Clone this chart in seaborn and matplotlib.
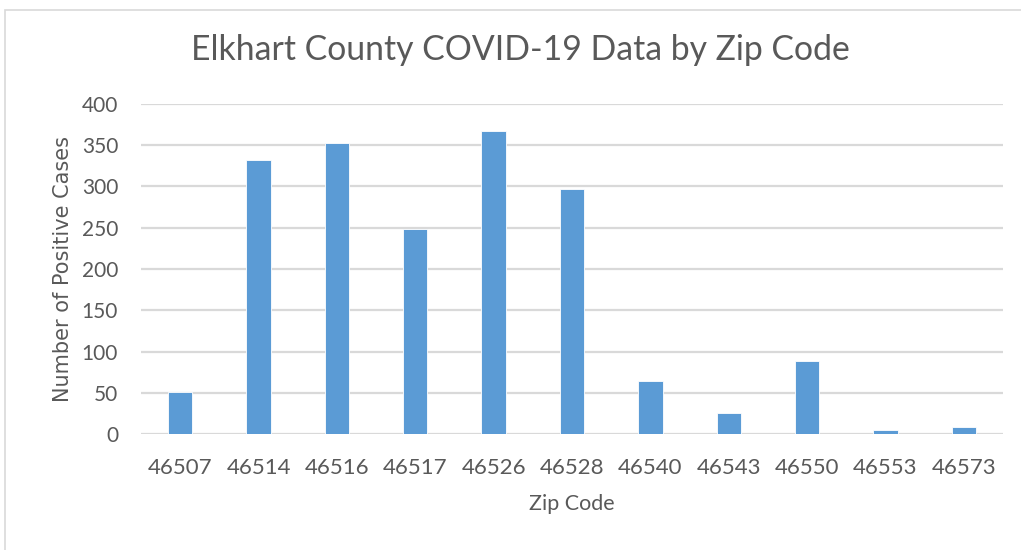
import matplotlib
matplotlib.use("Agg")
import matplotlib.pyplot as plt
import seaborn as sns
import pandas as pd
from matplotlib.patches import Rectangle

# Data
zip_codes = ["46507", "46514", "46516", "46517", "46526", "46528",
             "46540", "46543", "46550", "46553", "46573"]
positive_cases = [51, 332, 353, 249, 367, 297, 64, 26, 89, 5, 9]
y_ticks = [0, 50, 100, 150, 200, 250, 300, 350, 400]

df = pd.DataFrame({"Zip Code": zip_codes, "Cases": positive_cases})

sns.set_theme(style="white")
plt.rcParams["font.family"] = ["Lato", "DejaVu Sans"]

text_gray = "#595959"
grid_gray = "#d9d9d9"
bar_blue = "#5b9bd5"

fig = plt.figure(figsize=(10.21, 5.5), dpi=100)
ax = fig.add_axes([141 / 1021, 1 - 434 / 550, 862 / 1021, 330 / 550])

sns.barplot(data=df, x="Zip Code", y="Cases", color=bar_blue,
            width=0.31, saturation=1, ax=ax, zorder=3)
for p in ax.patches:
    p.set_edgecolor("white")
    p.set_linewidth(0.6)

ax.set_ylim(0, 400)
ax.set_xlim(-0.5, len(zip_codes) - 0.5)
ax.set_yticks(y_ticks)
ax.set_yticklabels([str(t) for t in y_ticks])
ax.yaxis.grid(True, color=grid_gray, linewidth=1.6, zorder=0)
ax.xaxis.grid(False)
for s in ax.spines.values():
    s.set_visible(False)
ax.axhline(0, color=grid_gray, linewidth=1.8, zorder=2)

ax.tick_params(axis="both", length=0, colors=text_gray)
ax.tick_params(axis="y", pad=16.5, labelsize=15)
ax.tick_params(axis="x", pad=17, labelsize=16)

ax.set_xlabel("Zip Code", fontsize=15.5, color=text_gray, labelpad=12)
ax.set_ylabel("Number of Positive Cases", fontsize=15, color=text_gray,
              family="DejaVu Sans", labelpad=6)

fig.text(520 / 1021, 1 - 50 / 550, "Elkhart County COVID-19 Data by Zip Code",
         ha="center", va="center", fontsize=24.3, color=text_gray)

# light frame around the chart area
fig.patches.append(Rectangle((5 / 1021, -0.01), 1.02, 1 - 4 / 550, transform=fig.transFigure,
                             fill=False, edgecolor="#d9d9d9", linewidth=1.2))

fig.savefig("out.png", dpi=100, facecolor="white")
